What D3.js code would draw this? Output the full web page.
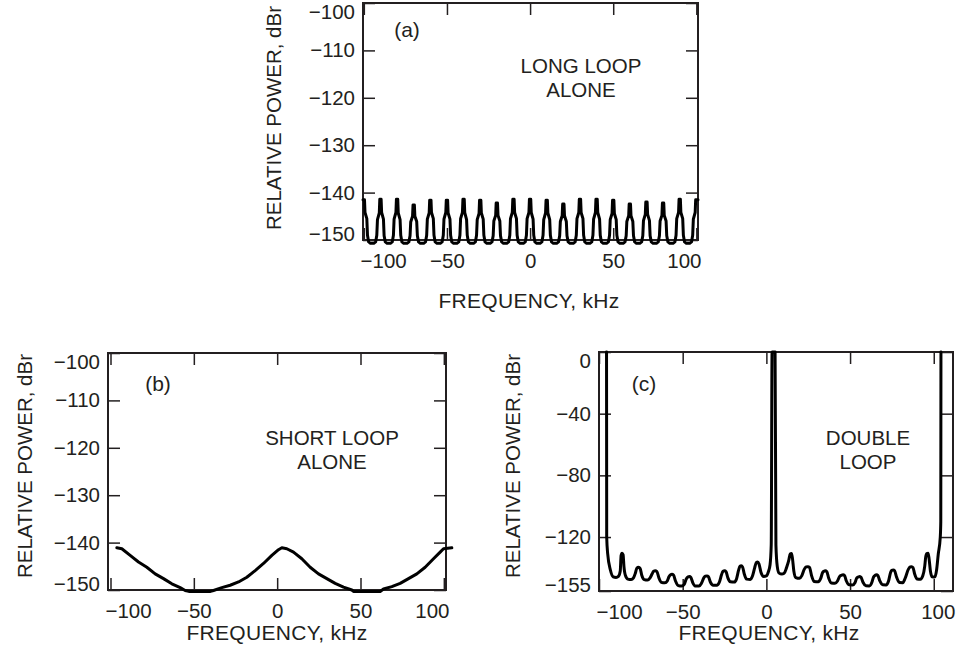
<!DOCTYPE html>
<html>
<head>
<meta charset="utf-8">
<script src="https://cdn.jsdelivr.net/npm/d3@7"></script>
<style>
  body { margin: 0; background: #fff; }
  text { font-family: "Liberation Sans", Arial, Helvetica, sans-serif; fill: #231f20; }
</style>
</head>
<body>
<svg id="chart" width="958" height="666"></svg>
<script>
// tick values
const xTicks = [-100, -50, 0, 50, 100];
const yTicksAB = [-150, -140, -130, -120, -110, -100];
const yTicksC = [-155, -120, -80, -40, 0];

// (a) long loop alone: [kHz, dBr], one line per 10 kHz period
const longLoop = [
  [-100.5, -141.5],
  [-99.6, -141.5], [-99.3, -144.2], [-98.2, -145.5], [-97.8, -149.0], [-97.1, -150.4], [-96.0, -150.7], [-94.0, -150.7], [-92.9, -150.4], [-92.2, -149.0], [-91.8, -145.7], [-90.7, -144.3], [-90.4, -141.4],
  [-89.6, -141.4], [-89.3, -144.2], [-88.2, -145.6], [-87.8, -149.1], [-87.1, -150.4], [-86.0, -150.7], [-84.0, -150.7], [-82.9, -150.4], [-82.2, -149.0], [-81.8, -145.6], [-80.7, -144.2], [-80.4, -141.4],
  [-79.6, -141.4], [-79.3, -144.3], [-78.2, -145.7], [-77.8, -149.0], [-77.1, -150.4], [-76.0, -150.7], [-74.0, -150.7], [-72.9, -150.4], [-72.2, -149.1], [-71.8, -146.2], [-70.7, -145.0], [-70.4, -142.6],
  [-69.6, -142.6], [-69.3, -145.0], [-68.2, -146.1], [-67.8, -149.1], [-67.1, -150.4], [-66.0, -150.7], [-64.0, -150.7], [-62.9, -150.4], [-62.2, -149.0], [-61.8, -145.6], [-60.7, -144.3], [-60.4, -141.6],
  [-59.6, -141.6], [-59.3, -144.2], [-58.2, -145.5], [-57.8, -149.0], [-57.1, -150.4], [-56.0, -150.7], [-54.0, -150.7], [-52.9, -150.4], [-52.2, -149.0], [-51.8, -145.6], [-50.7, -144.2], [-50.4, -141.6],
  [-49.6, -141.6], [-49.3, -144.3], [-48.2, -145.6], [-47.8, -149.0], [-47.1, -150.4], [-46.0, -150.7], [-44.0, -150.7], [-42.9, -150.4], [-42.2, -149.0], [-41.8, -145.5], [-40.7, -144.2], [-40.4, -141.4],
  [-39.6, -141.4], [-39.3, -144.2], [-38.2, -145.7], [-37.8, -149.0], [-37.1, -150.4], [-36.0, -150.7], [-34.0, -150.7], [-32.9, -150.4], [-32.2, -149.0], [-31.8, -145.7], [-30.7, -144.4], [-30.4, -141.6],
  [-29.6, -141.6], [-29.3, -144.3], [-28.2, -145.6], [-27.8, -149.0], [-27.1, -150.4], [-26.0, -150.7], [-24.0, -150.7], [-22.9, -150.4], [-22.2, -149.1], [-21.8, -146.0], [-20.7, -144.8], [-20.4, -142.2],
  [-19.6, -142.2], [-19.3, -144.8], [-18.2, -146.0], [-17.8, -149.1], [-17.1, -150.4], [-16.0, -150.7], [-14.0, -150.7], [-12.9, -150.4], [-12.2, -149.0], [-11.8, -145.5], [-10.7, -144.2], [-10.4, -141.4],
  [-9.6, -141.4], [-9.3, -144.2], [-8.2, -145.5], [-7.8, -149.0], [-7.1, -150.4], [-6.0, -150.7], [-4.0, -150.7], [-2.9, -150.4], [-2.2, -149.0], [-1.8, -145.5], [-0.7, -144.2], [-0.4, -141.4],
  [0.4, -141.4], [0.7, -144.2], [1.8, -145.6], [2.2, -149.0], [2.9, -150.4], [4.0, -150.7], [6.0, -150.7], [7.1, -150.4], [7.8, -149.0], [8.2, -145.7], [9.3, -144.3], [9.6, -141.6],
  [10.4, -141.6], [10.7, -144.3], [11.8, -145.7], [12.2, -149.0], [12.9, -150.4], [14.0, -150.7], [16.0, -150.7], [17.1, -150.4], [17.8, -149.1], [18.2, -146.1], [19.3, -144.9], [19.6, -142.4],
  [20.4, -142.4], [20.7, -144.9], [21.8, -146.1], [22.2, -149.1], [22.9, -150.4], [24.0, -150.7], [26.0, -150.7], [27.1, -150.4], [27.8, -149.0], [28.2, -145.5], [29.3, -144.2], [29.6, -141.4],
  [30.4, -141.4], [30.7, -144.2], [31.8, -145.5], [32.2, -149.0], [32.9, -150.4], [34.0, -150.7], [36.0, -150.7], [37.1, -150.4], [37.8, -149.0], [38.2, -145.6], [39.3, -144.2], [39.6, -141.4],
  [40.4, -141.4], [40.7, -144.2], [41.8, -145.6], [42.2, -149.0], [42.9, -150.4], [44.0, -150.7], [46.0, -150.7], [47.1, -150.4], [47.8, -149.0], [48.2, -145.7], [49.3, -144.4], [49.6, -141.6],
  [50.4, -141.6], [50.7, -144.4], [51.8, -145.7], [52.2, -149.0], [52.9, -150.4], [54.0, -150.7], [56.0, -150.7], [57.1, -150.4], [57.8, -149.1], [58.2, -146.1], [59.3, -144.9], [59.6, -142.4],
  [60.4, -142.4], [60.7, -144.9], [61.8, -146.1], [62.2, -149.1], [62.9, -150.4], [64.0, -150.7], [66.0, -150.7], [67.1, -150.4], [67.8, -149.1], [68.2, -145.9], [69.3, -144.6], [69.6, -142.0],
  [70.4, -142.0], [70.7, -144.6], [71.8, -145.9], [72.2, -149.1], [72.9, -150.4], [74.0, -150.7], [76.0, -150.7], [77.1, -150.4], [77.8, -149.1], [78.2, -146.0], [79.3, -144.8], [79.6, -142.2],
  [80.4, -142.2], [80.7, -144.8], [81.8, -146.0], [82.2, -149.1], [82.9, -150.4], [84.0, -150.7], [86.0, -150.7], [87.1, -150.4], [87.8, -149.0], [88.2, -145.5], [89.3, -144.2], [89.6, -141.4],
  [90.4, -141.4], [90.7, -144.2], [91.8, -145.5], [92.2, -149.0], [92.9, -150.4], [94.0, -150.7], [96.0, -150.7], [97.1, -150.4], [97.8, -149.0], [98.2, -145.6], [99.3, -144.2], [99.6, -141.5],
  [100.4, -141.5], [101.0, -141.5]
];

// (b) short loop alone: [kHz, dBr]
const shortLoop = [
  [-96.2, -141.1], [-93.2, -141.3], [-88.2, -142.7], [-83.2, -144.1], [-78.2, -145.2], [-73.2, -146.6],
  [-68.2, -147.6], [-63.2, -148.7], [-58.2, -149.5], [-55.2, -150.1], [-53.0, -150.3], [-40.0, -150.3],
  [-38.2, -150.1], [-33.2, -149.5], [-28.2, -149.0], [-23.2, -148.3], [-18.2, -147.3], [-13.2, -145.9],
  [-8.2, -144.4], [-3.2, -142.7], [0.8, -141.5], [2.8, -141.1], [5.8, -141.3], [9.8, -142.0],
  [14.8, -143.4], [19.8, -145.2], [24.8, -146.6], [29.8, -147.6], [34.8, -148.6], [39.8, -149.4],
  [44.8, -150.0], [45.8, -150.3], [61.8, -150.3], [63.8, -149.8], [68.8, -149.3], [73.8, -148.6],
  [78.8, -147.6], [83.8, -146.6], [88.8, -145.2], [93.8, -143.4], [97.8, -142.0], [99.8, -141.3],
  [104.8, -141.1]
];

// (c) double loop: [kHz, dBr]
const doubleLoop = [
  [-95.5, 0], [-95.4, -120], [-94.8, -131], [-93.2, -141.4], [-91.5, -145.8], [-89.8, -146.2], [-88.4, -145.5],
  [-87.3, -142], [-86.8, -132], [-86.2, -130.5], [-85.6, -131.5], [-85.1, -139], [-84.2, -145], [-82.8, -147.3],
  [-80.8, -147.6], [-79.4, -146.5], [-78.3, -143.5], [-77.4, -140.2], [-76.4, -139.6], [-75.4, -140.5], [-74.4, -145],
  [-73.0, -147.6], [-71.0, -147.9], [-69.5, -146.5], [-68.3, -144], [-67.4, -142.2], [-66.4, -141.9], [-65.4, -142.4],
  [-64.2, -146.5], [-62.8, -149.4], [-60.6, -149.7], [-59.2, -148.5], [-58.2, -145.8], [-57.2, -144.4], [-56.4, -144.1],
  [-55.5, -144.6], [-54.3, -148.5], [-52.6, -151.5], [-50.6, -151.8], [-49.0, -150.5], [-47.8, -147], [-46.8, -145.8],
  [-46.0, -145.6], [-45.1, -146.2], [-44.0, -149.5], [-42.5, -151.7], [-40.2, -151.8], [-38.8, -150], [-37.4, -146.5],
  [-36.4, -145.4], [-35.5, -145.2], [-34.6, -145.8], [-33.4, -149.3], [-31.8, -151.2], [-29.4, -151.2], [-28.0, -149],
  [-26.8, -144.5], [-25.9, -142.2], [-25.0, -141.9], [-24.1, -142.5], [-23.0, -146.5], [-21.5, -149], [-19.2, -149.2],
  [-17.8, -147], [-16.6, -141.5], [-15.8, -139], [-15.0, -138.7], [-14.2, -139.5], [-13.2, -144], [-11.8, -147.3],
  [-9.6, -147.5], [-8.2, -145], [-7.0, -140], [-6.0, -136.5], [-5.2, -136.2], [-4.4, -137.5], [-3.2, -143],
  [-1.6, -145.6], [0.0, -145.2], [1.2, -142.5], [2.2, -138], [2.9, -125], [3.4, 0], [5.2, 0], [5.7, -125],
  [6.5, -139], [7.6, -143.4], [9.2, -144], [10.6, -143.5], [12.0, -140], [13.4, -135], [14.2, -131], [15.0, -130.7],
  [15.6, -134], [16.4, -142], [17.6, -146.3], [19.8, -146.8], [21.2, -145], [22.6, -141], [23.8, -139.4], [24.8, -139.2],
  [25.8, -139.8], [27.0, -145], [28.5, -148.8], [31.0, -149], [32.4, -147], [33.6, -143], [34.4, -142.2], [35.2, -141.9],
  [36.1, -142.5], [37.2, -146.5], [38.8, -149.8], [41.0, -150], [42.5, -148.5], [43.8, -145.5], [44.9, -144.8], [45.8, -144.5],
  [46.7, -145], [47.8, -148.5], [49.5, -151], [51.5, -151.1], [53.0, -149.5], [54.0, -146.5], [55.0, -145.9], [55.8, -145.6],
  [56.6, -146.2], [57.8, -149.5], [59.5, -151.6], [61.5, -151.7], [63.0, -149.5], [64.0, -146], [65.0, -144.8], [65.8, -144.5],
  [66.6, -145], [67.8, -148.5], [69.5, -151], [71.5, -151.1], [73.0, -148.5], [74.2, -143], [75.0, -141.6], [75.8, -141.3],
  [76.6, -141.8], [77.8, -146], [79.5, -149.5], [81.5, -149.6], [83.0, -146.5], [84.8, -141], [86.0, -139.4], [86.8, -139.2],
  [87.6, -139.8], [88.6, -144], [90.0, -147.2], [92.0, -147.4], [93.5, -145], [94.6, -139], [95.2, -133], [95.8, -130.7],
  [96.6, -130.5], [97.2, -134], [98.0, -142], [99.0, -145.8], [100.6, -146], [101.7, -141.4], [102.7, -131], [103.9, -120],
  [104.2, -110], [104.3, 0]
];

const svg = d3.select("#chart");
const ink = "#231f20";
const fmt = d3.format("d");

const panels = [
  { data: longLoop, curve: d3.curveLinear, box: [363, 698, 3, 240], xDom: [-100.5, 101], yDom: [-150, -100], yTicks: yTicksAB,
    tag: "(a)", tagPos: [407, 37], note: ["LONG LOOP", "ALONE"], notePos: [581, 73],
    xTitle: [529, 308], yTitle: [281, 118], lastX: "end" },
  { data: shortLoop, curve: d3.curveLinear, box: [108, 446, 353, 590], xDom: [-101.5, 101.3], yDom: [-150, -100], yTicks: yTicksAB,
    tag: "(b)", tagPos: [158, 391], note: ["SHORT LOOP", "ALONE"], notePos: [332, 445],
    xTitle: [277, 640], yTitle: [32, 466], lastX: "end" },
  { data: doubleLoop, curve: d3.curveMonotoneX, box: [599, 953, 352, 591], xDom: [-100, 111.5], yDom: [-155, 0], yTicks: yTicksC,
    tag: "(c)", tagPos: [644, 391], note: ["DOUBLE", "LOOP"], notePos: [868, 445],
    xTitle: [769, 640], yTitle: [520, 466], lastX: "middle" }
];

const drawPanel = (p) => {
  const [x0, x1, y0, y1] = p.box;
  const x = d3.scaleLinear().domain(p.xDom).range([x0, x1]);
  const y = d3.scaleLinear().domain(p.yDom).range([y1, y0]);
  const g = svg.append("g");

  // inward ticks on all four sides
  const styleAxis = (sel) => {
    sel.select(".domain").remove();
    sel.selectAll(".tick line").attr("stroke", ink).attr("stroke-width", 1.5);
    sel.selectAll(".tick text").style("font-size", "20.5px").attr("fill", ink);
  };

  const bottom = g.append("g")
    .attr("transform", `translate(0,${y1})`)
    .call(d3.axisBottom(x).tickValues(xTicks).tickSize(-12).tickPadding(13).tickFormat(fmt))
    .call(styleAxis);
  bottom.selectAll(".tick text").filter(d => d === -100)
    .attr("text-anchor", "start").attr("x", (x0 - 3) - x(-100));
  if (p.lastX === "end") {
    bottom.selectAll(".tick text").filter(d => d === 100)
      .attr("text-anchor", "end").attr("x", (x1 + 3) - x(100));
  } else {
    bottom.selectAll(".tick text").filter(d => d === 100).attr("x", 4);
  }

  g.append("g")
    .attr("transform", `translate(0,${y0})`)
    .call(d3.axisTop(x).tickValues(xTicks).tickSize(-12).tickFormat(""))
    .call(styleAxis);

  const left = g.append("g")
    .attr("transform", `translate(${x0},0)`)
    .call(d3.axisLeft(y).tickValues(p.yTicks).tickSize(-12).tickPadding(8).tickFormat(fmt))
    .call(styleAxis);
  const yMin = p.yDom[0], yMax = p.yDom[1];
  left.selectAll(".tick text").filter(d => d === yMax).attr("dy", "0.76em");
  left.selectAll(".tick text").filter(d => d === yMin).attr("dy", "0.0em");

  g.append("g")
    .attr("transform", `translate(${x1},0)`)
    .call(d3.axisRight(y).tickValues(p.yTicks).tickSize(-12).tickFormat(""))
    .call(styleAxis);

  // frame
  g.append("rect")
    .attr("x", x0).attr("y", y0)
    .attr("width", x1 - x0).attr("height", y1 - y0)
    .attr("fill", "none").attr("stroke", ink).attr("stroke-width", 2);

  // spectrum trace
  g.append("path")
    .datum(p.data)
    .attr("d", d3.line().x(d => x(d[0])).y(d => y(d[1])).curve(p.curve))
    .attr("fill", "none")
    .attr("stroke", "#000")
    .attr("stroke-width", 3)
    .attr("stroke-linejoin", "round")
    .attr("stroke-linecap", "round");

  // labels
  g.append("text")
    .attr("x", p.tagPos[0]).attr("y", p.tagPos[1])
    .attr("text-anchor", "middle").style("font-size", "21px")
    .text(p.tag);

  // two-line note, spaced so the lines don't collide
  p.note.forEach((line, i) => {
    g.append("text")
      .attr("x", p.notePos[0]).attr("y", p.notePos[1] + i * 24)
      .attr("text-anchor", "middle").style("font-size", "20.5px")
      .text(line);
  });

  g.append("text")
    .attr("x", p.xTitle[0]).attr("y", p.xTitle[1])
    .attr("text-anchor", "middle").style("font-size", "21px")
    .style("letter-spacing", "0.3px")
    .text("FREQUENCY, kHz");

  g.append("text")
    .attr("transform", `translate(${p.yTitle[0]},${p.yTitle[1]}) rotate(-90)`)
    .attr("text-anchor", "middle").style("font-size", "20.5px")
    .text("RELATIVE POWER, dBr");
};

panels.forEach(drawPanel);
</script>
</body>
</html>
